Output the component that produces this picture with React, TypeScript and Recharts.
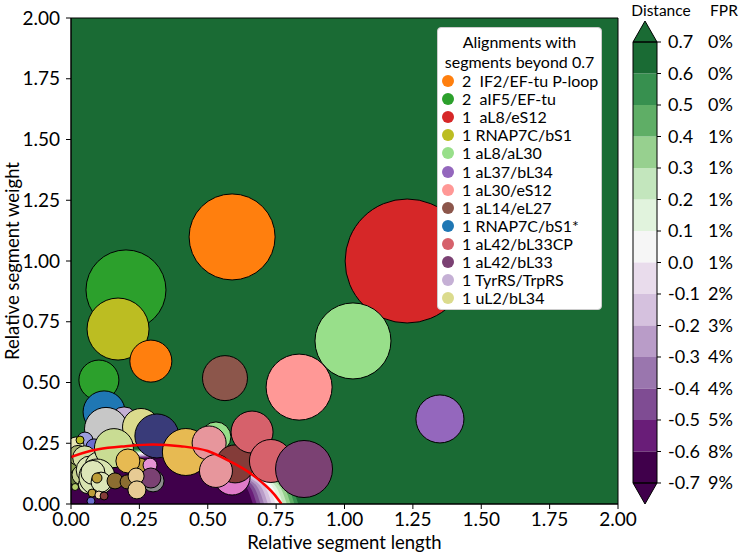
import React from 'react';
import {
  ComposedChart, Scatter, Area, Line, XAxis, YAxis, ZAxis, CartesianGrid, Cell, Legend,
  ReferenceArea, BarChart, Bar,
} from 'recharts';

const FONT = 'Lato, "Open Sans", sans-serif';

// bubbles: relative segment length / weight, size ~ bubble area
const bubbleX = [0.589, 1.229, 0.201, 0.172, 1.031, 0.834, 1.349, 0.292, 0.102, 0.563, 0.121, 0.194, 0.128, 0.051, 0.018, 0.033, 0.084, 0.033, 0.026, 0.026, 0.050, 0.040, 0.070, 0.060, 0.100, 0.256, 0.157, 0.314, 0.095, 0.080, 0.110, 0.252, 0.208, 0.289, 0.161, 0.205, 0.300, 0.292, 0.238, 0.241, 0.095, 0.077, 0.102, 0.121, 0.015, 0.073, 0.420, 0.530, 0.505, 0.589, 0.600, 0.530, 0.662, 0.731, 0.852];
const bubbleY = [1.099, 1.000, 0.881, 0.720, 0.671, 0.481, 0.350, 0.588, 0.510, 0.518, 0.379, 0.342, 0.309, 0.263, 0.243, 0.263, 0.235, 0.160, 0.107, 0.200, 0.190, 0.120, 0.140, 0.080, 0.160, 0.317, 0.230, 0.280, 0.111, 0.130, 0.090, 0.156, 0.177, 0.160, 0.095, 0.091, 0.095, 0.107, 0.115, 0.058, 0.107, 0.045, 0.037, 0.033, 0.070, 0.012, 0.214, 0.276, 0.251, 0.111, 0.165, 0.136, 0.296, 0.177, 0.144];
const bubbleSize = [1849, 3844, 1600, 961, 1444, 1089, 576, 441, 400, 506, 441, 196, 462, 64, 64, 16, 64, 144, 81, 100, 144, 100, 196, 81, 169, 342, 380, 484, 324, 144, 100, 64, 144, 49, 64, 49, 121, 100, 64, 81, 25, 16, 16, 16, 12, 16, 552, 225, 289, 324, 361, 272, 441, 462, 812];
const bubbleColors = ['#ff7f0e', '#d62728', '#2ca02c', '#bcbd22', '#98df8a', '#ff9896', '#9467bd', '#ff7f0e', '#2ca02c', '#8c564b', '#1f77b4', '#c5b0d5', '#c7c7c7', '#9c9ede', '#e7e6b6', '#bcbd22', '#6b6ecf', '#8ca252', '#637939', '#a8b370', '#d5dfa5', '#c5d190', '#dbe5b4', '#dfe8bb', '#d9e4b0', '#dbdb8d', '#c9dc93', '#393b79', '#d9e4b0', '#dde6b8', '#dde6b8', '#bd9e39', '#e7ba52', '#e592d5', '#8c6d31', '#8c6d31', '#8c8c8c', '#7b4173', '#e7cb94', '#e7cb94', '#bd9e39', '#bd9e39', '#f0d5a5', '#843c39', '#b5cf6b', '#6b6ecf', '#e7ba52', '#98df8a', '#e7969c', '#e07bc9', '#843c39', '#e7969c', '#d6616b', '#d6616b', '#7b4173'];

// red boundary curve
const redX = [0, 0.05, 0.1, 0.2, 0.3, 0.4, 0.5, 0.58, 0.655, 0.7, 0.74, 0.77];
const redY = [0.193, 0.212, 0.225, 0.238, 0.245, 0.238, 0.218, 0.176, 0.127, 0.087, 0.044, 0];

// distance contour bands (innermost first), boundary points
const contourX = [
  [0, 0.15, 0.3, 0.45, 0.55, 0.605, 0.645, 0.665],
  [0, 0.15, 0.3, 0.45, 0.55, 0.619, 0.659, 0.679],
  [0, 0.15, 0.3, 0.45, 0.55, 0.633, 0.673, 0.693],
  [0, 0.15, 0.3, 0.45, 0.55, 0.646, 0.686, 0.706],
  [0, 0.15, 0.3, 0.45, 0.55, 0.660, 0.700, 0.720],
  [0, 0.15, 0.3, 0.45, 0.55, 0.674, 0.714, 0.734],
  [0, 0.15, 0.3, 0.45, 0.55, 0.688, 0.728, 0.748],
  [0, 0.15, 0.3, 0.45, 0.55, 0.702, 0.742, 0.762],
  [0, 0.15, 0.3, 0.45, 0.55, 0.715, 0.755, 0.775],
  [0, 0.15, 0.3, 0.45, 0.55, 0.729, 0.769, 0.789],
  [0, 0.15, 0.3, 0.45, 0.55, 0.743, 0.783, 0.803],
  [0, 0.15, 0.3, 0.45, 0.55, 0.757, 0.797, 0.817],
  [0, 0.15, 0.3, 0.45, 0.55, 0.771, 0.811, 0.831],
];
const contourY = [
  [0.108, 0.173, 0.190, 0.173, 0.138, 0.104, 0.062, 0],
  [0.118, 0.177, 0.193, 0.177, 0.145, 0.104, 0.062, 0],
  [0.127, 0.181, 0.196, 0.181, 0.151, 0.104, 0.062, 0],
  [0.134, 0.185, 0.199, 0.185, 0.157, 0.104, 0.062, 0],
  [0.141, 0.189, 0.202, 0.189, 0.162, 0.104, 0.062, 0],
  [0.148, 0.192, 0.205, 0.192, 0.168, 0.104, 0.062, 0],
  [0.154, 0.196, 0.208, 0.196, 0.173, 0.104, 0.062, 0],
  [0.160, 0.200, 0.211, 0.200, 0.177, 0.104, 0.061, 0],
  [0.166, 0.203, 0.214, 0.203, 0.182, 0.104, 0.061, 0],
  [0.171, 0.207, 0.217, 0.207, 0.187, 0.104, 0.061, 0],
  [0.177, 0.210, 0.220, 0.210, 0.191, 0.104, 0.062, 0],
  [0.182, 0.213, 0.223, 0.213, 0.195, 0.104, 0.062, 0],
  [0.186, 0.217, 0.226, 0.217, 0.199, 0.104, 0.061, 0],
];

// colour bar
const cbLevels = [-0.7, -0.6, -0.5, -0.4, -0.3, -0.2, -0.1, 0.0, 0.1, 0.2, 0.3, 0.4, 0.5, 0.6, 0.7];
const cbFpr = ['9%', '8%', '5%', '4%', '4%', '3%', '2%', '1%', '1%', '1%', '1%', '1%', '0%', '0%', '0%'];
const bandColors = ['#40004b', '#691d78', '#7f4c93', '#9a76ae', '#b99cc8', '#d5c1de', '#e9dcec', '#f6f6f6', '#e1f3dd', '#c3e6bd', '#97d08f', '#5fae66', '#37904f', '#1a6b34'];
const UNDER = '#40004b';
const OVER = '#1a6b34';

const legendCounts = ['2 ', '2 ', '1 ', '1', '1', '1', '1', '1', '1', '1', '1', '1', '1'];
const legendNames = ['IF2/EF-tu P-loop', 'aIF5/EF-tu', 'aL8/eS12', 'RNAP7C/bS1', 'aL8/aL30', 'aL37/bL34', 'aL30/eS12', 'aL14/eL27', 'RNAP7C/bS1*', 'aL42/bL33CP', 'aL42/bL33', 'TyrRS/TrpRS', 'uL2/bL34'];
const legendColors = ['#ff7f0e', '#2ca02c', '#d62728', '#bcbd22', '#98df8a', '#9467bd', '#ff9896', '#8c564b', '#1f77b4', '#d6616b', '#7b4173', '#c5b0d5', '#dbdb8d'];

const axisTicks = [0, 0.25, 0.5, 0.75, 1, 1.25, 1.5, 1.75, 2];

const LegendBox = () => (
  <div style={{
    background: '#fff', border: '1px solid #cccccc', borderRadius: 4, width: 165, height: 283,
    padding: '4px 0 0 0', boxSizing: 'border-box', fontFamily: FONT, fontSize: 16, color: '#000',
  }}>
    <div style={{ textAlign: 'center', lineHeight: '20px', height: 20 }}>Alignments with</div>
    <div style={{ textAlign: 'center', lineHeight: '20px', height: 20 }}>segments beyond 0.7</div>
    {legendNames.map((n, i) => (
      <div key={n} style={{ display: 'flex', alignItems: 'center', height: 18.1, lineHeight: '18px', whiteSpace: 'pre' }}>
        <span style={{ display: 'inline-block', flex: '0 0 12px', width: 12, height: 12, borderRadius: 6, background: legendColors[i], marginLeft: 4, marginRight: 8 }} />
        <span style={{ lineHeight: '18px' }}>{legendCounts[i] + ' ' + n}</span>
      </div>
    ))}
  </div>
);

const XTitle = (props: any) => {
  const vb = props.viewBox || { x: 71, y: 504, width: 547, height: 49 };
  return (
    <text x={vb.x + vb.width / 2} y={vb.y + 45} textAnchor="middle" fontSize={18.5} fontFamily={FONT} fill="#000">
      Relative segment length
    </text>
  );
};

const YTitle = (props: any) => {
  const vb = props.viewBox || { x: 11, y: 18, width: 60, height: 486 };
  const cx = vb.x + 8;
  const cy = vb.y + vb.height / 2;
  return (
    <text x={cx} y={cy} transform={`rotate(-90 ${cx} ${cy})`} textAnchor="middle" fontSize={18.5} fontFamily={FONT} fill="#000">
      Relative segment weight
    </text>
  );
};

const CbTick = (props: any) => {
  const { x, y, payload } = props;
  const i = cbLevels.findIndex((v) => Math.abs(v - payload.value) < 1e-6);
  return (
    <g>
      <text x={x} y={y} dy="0.36em" textAnchor="start" fontSize={18} fontFamily={FONT} fill="#000">
        {payload.value.toFixed(1)}
      </text>
      <text x={x + 40} y={y} dy="0.36em" textAnchor="start" fontSize={18} fontFamily={FONT} fill="#000">
        {cbFpr[i]}
      </text>
    </g>
  );
};

const triangle = (props: any, up: boolean) => {
  const { x, y, width, height, fill } = props;
  const top = Math.min(y, y + height);
  const h = Math.abs(height);
  const pts = up
    ? `${x},${top + h} ${x + width / 2},${top} ${x + width},${top + h}`
    : `${x},${top} ${x + width / 2},${top + h} ${x + width},${top}`;
  return <polygon points={pts} fill={fill} stroke="#000" strokeWidth={1} />;
};

export default function App() {
  const bubbles = bubbleX.map((x, i) => ({ x, y: bubbleY[i], z: bubbleSize[i] }));
  const redCurve = redX.map((x, i) => ({ x, y: redY[i] }));
  const bands = contourX.map((xs, k) => xs.map((x, j) => ({ x, y: contourY[k][j] })));

  const ext = 0.0667;
  const cbRow: Record<string, any> = { name: 'cb', over: ext, under: -ext };
  bandColors.forEach((_, i) => { cbRow['b' + i] = cbLevels[i] >= 0 ? 0.1 : -0.1; });
  const posIdx = bandColors.map((_, i) => i).filter((i) => cbLevels[i] >= 0);
  const negIdx = bandColors.map((_, i) => i).filter((i) => cbLevels[i] < 0).reverse();

  return (
    <div style={{ position: 'absolute', left: 0, top: 0, width: 745, height: 553, background: '#fff', fontFamily: FONT }}>
      <ComposedChart width={745} height={553} margin={{ top: 18, right: 127, bottom: 0, left: 11 }}>
        <CartesianGrid fill={OVER} stroke="none" />
        <XAxis
          dataKey="x" type="number" domain={[0, 2]} ticks={axisTicks} allowDataOverflow
          tickFormatter={(v: number) => v.toFixed(2)} height={49} tickSize={5} tickMargin={4}
          tick={{ fill: '#000', fontSize: 19, fontFamily: FONT }}
          axisLine={{ stroke: '#000' }} tickLine={{ stroke: '#000' }}
          label={{ content: XTitle }}
        />
        <YAxis
          dataKey="y" type="number" domain={[0, 2]} ticks={axisTicks} allowDataOverflow
          tickFormatter={(v: number) => v.toFixed(2)} width={60} tickSize={5} tickMargin={6}
          tick={{ fill: '#000', fontSize: 19, fontFamily: FONT }}
          axisLine={{ stroke: '#000' }} tickLine={{ stroke: '#000' }}
          label={{ content: YTitle }}
        />
        <ZAxis dataKey="z" type="number" domain={[0, 4000]} range={[0, 12566]} />
        {bands.slice().reverse().map((band, r) => {
          const k = bands.length - 1 - r;
          return (
            <Area
              key={'band' + k} data={band} dataKey="y" type="monotone"
              fill={bandColors[k]} fillOpacity={1} stroke="none" isAnimationActive={false}
            />
          );
        })}
        <Scatter data={bubbles} stroke="#000" strokeWidth={1} isAnimationActive={false}>
          {bubbles.map((_, i) => (
            <Cell key={i} fill={bubbleColors[i]} stroke="#000" strokeWidth={1} />
          ))}
        </Scatter>
        <Line
          data={redCurve} dataKey="y" type="monotone" stroke="#ff0000" strokeWidth={2.5}
          dot={false} activeDot={false} isAnimationActive={false} zIndex={700}
        />
        <ReferenceArea x1={0} x2={2} y1={0} y2={2} fill="none" stroke="#000" strokeWidth={1} ifOverflow="visible" zIndex={800} />
        <Legend
          layout="vertical" align="center" verticalAlign="middle"
          wrapperStyle={{ left: 437, top: 27, width: 165, height: 283 }}
          content={() => <LegendBox />}
        />
      </ComposedChart>

      <div style={{ position: 'absolute', left: 611, top: 0, width: 100, textAlign: 'center', fontSize: 15.5, lineHeight: '20px' }}>
        Distance
      </div>
      <div style={{ position: 'absolute', left: 700, top: 0, width: 48, textAlign: 'center', fontSize: 15.5, lineHeight: '20px' }}>
        FPR
      </div>

      <div style={{ position: 'absolute', left: 600, top: 0 }}>
        <BarChart
          width={145} height={553} data={[cbRow]} stackOffset="sign" barCategoryGap={0} barGap={0}
          margin={{ top: 21, right: 0, bottom: 49, left: 33 }}
        >
          <XAxis dataKey="name" hide />
          <YAxis
            orientation="right" type="number" domain={[-0.7667, 0.7667]} ticks={cbLevels} interval={0}
            allowDataOverflow width={88} tickSize={4} tickMargin={7} axisLine={false}
            tickLine={{ stroke: '#000' }} tick={<CbTick />}
          />
          {posIdx.map((i) => (
            <Bar key={'b' + i} dataKey={'b' + i} stackId="cb" fill={bandColors[i]} isAnimationActive={false} />
          ))}
          <Bar dataKey="over" stackId="cb" fill={OVER} isAnimationActive={false} shape={(p: any) => triangle(p, true)} />
          {negIdx.map((i) => (
            <Bar key={'b' + i} dataKey={'b' + i} stackId="cb" fill={bandColors[i]} isAnimationActive={false} />
          ))}
          <Bar dataKey="under" stackId="cb" fill={UNDER} isAnimationActive={false} shape={(p: any) => triangle(p, false)} />
          <ReferenceArea y1={-0.7} y2={0.7} fill="none" stroke="#000" strokeWidth={1} ifOverflow="visible" zIndex={800} />
        </BarChart>
      </div>
    </div>
  );
}
